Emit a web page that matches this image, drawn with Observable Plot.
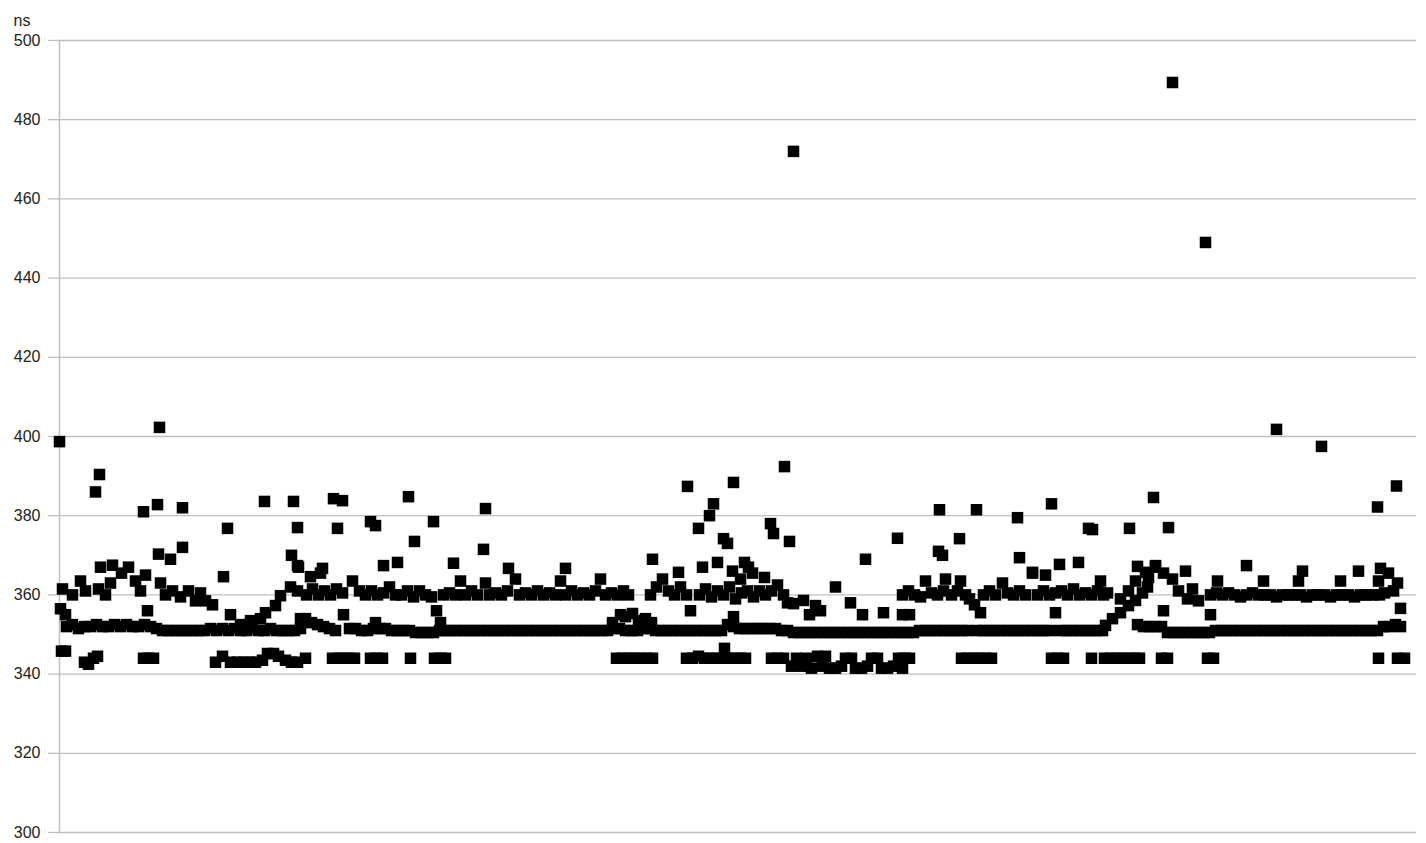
<!DOCTYPE html>
<html><head><meta charset="utf-8">
<script src="https://cdn.jsdelivr.net/npm/d3@7"></script>
<script src="https://cdn.jsdelivr.net/npm/@observablehq/plot@0.6"></script>
<style>body{margin:0;background:#fff}</style>
</head><body><div id="chart"></div>
<script>
const yTicks = [300, 320, 340, 360, 380, 400, 420, 440, 460, 480, 500];
const unitLabel = "ns";

// [sample, ns]
const lowBand = [[2,345.8],[6,345.8],[25,343],[29,342.5],[34,344],[38,344.5],
[84,344],[89,344],[94,344],
[156,343],[163,344.5],[171,343],[178,343],[184,343],[190,343],[196,343],[203,343.5],[208,345.2],[214,345.2],[219,344.5],[226,343.5],[232,343],[238,343],[246,344],
[273,344],[279,344],[284,344],[290,344],[295,344],
[311,344],[317,344],[323,344],
[351,344],
[375,344],[381,344],[386,344],
[557,344],[563,344],[569,344],[575,344],[581,344],[587,344],[593,344],
[627,344],[633,344],[639,344.5],[645,344],[651,344],[657,344],[663,344],[665,346.5],[669,344],[675,344],[681,344],[686,344],
[712,344],[718,344],[724,344],
[732,342],[737,344],[742,342],[747,344],[752,341.5],[758,344.5],[763,342],[766,344.5],[770,341.5],[776,341.5],[782,342],[786,344],[792,344],[796,341.5],[802,341.5],[808,342],[812,344],[818,344],[822,341.5],[828,341.5],[834,342],[839,344],[845,344],[850,344],[843,341.5],
[902,344],[908,344],[914,344],[920,344],[926,344],[932,344],
[992,344],[998,344],[1004,344],
[1032,344],
[1045,344],[1051,344],[1057,344],[1063,344],[1069,344],[1075,344],[1080,344],
[1102,344],[1108,344],
[1148,344],[1154,344],
[1319,344],
[1338,344],[1345,344]];

const midBand = [[7,352],[13,352.5],[19,351.5],[25,352],[31,352],[37,352.5],[43,352],[49,352],[55,352.5],[61,352],[67,352.5],[73,352],[79,352],[85,352.5],[91,352],[97,351.5],[103,351],[109,351],[115,351],[121,351],[127,351],[133,351],[139,351],[145,351],[151,351.5],[157,351],[163,351.5],[169,351],[175,351.5],[181,351],[187,351],[193,351.5],[199,351],[205,351],[211,351.5],[217,351],[223,351],[229,351],[235,351],[241,351.5],
[246,354],[252,353],[258,352.5],[264,352],[270,351.5],[276,351],
[290,351.5],[296,351.5],[302,351],[308,351],[314,351.5],[320,351.5],[326,351.5],[332,351],[338,351],[344,351],[350,351],[356,350.5],[362,350.5],[368,350.5],[374,350.5],
[380,351],[386,351],[392,351],[398,351],[404,351],[410,351],[416,351],[422,351],[428,351],[434,351],[440,351],[446,351],[452,351],[458,351],[464,351],[470,351],[476,351],[482,351],[488,351],[494,351],[500,351],[506,351],[512,351],[518,351],[524,351],[530,351],[536,351],[542,351],[548,351],
[554,351.5],[560,351.5],[566,351],[572,351],[578,351],[584,351.5],[590,351.5],[596,351],[602,351],[608,351],[614,351],[620,351],[626,351],[632,351],[638,351],[644,351],[650,351],[656,351],[662,351],[668,352.5],[674,352],[680,351.5],[686,351.5],[692,351.5],[698,351.5],[704,351.5],[710,351.5],[716,351.5],[722,351],[728,351],
[734,350.5],[740,350.5],[746,350.5],[752,350.5],[758,350.5],[764,350.5],[770,350.5],[776,350.5],[782,350.5],[788,350.5],[794,350.5],[800,350.5],[806,350.5],[812,350.5],[818,350.5],[824,350.5],[830,350.5],[836,350.5],[842,350.5],[848,350.5],[854,350.5],
[860,351],[866,351],[872,351],[878,351],[884,351],[890,351],[896,351],[902,351],[908,351],
[918,351],[924,351],[930,351],[936,351],[942,351],[948,351],[954,351],[960,351],[966,351],[972,351],[978,351],[984,351],[990,351],
[1001,351],[1007,351],[1013,351],[1019,351],[1025,351],[1031,351],[1037,351],[1043,351],
[1078,352.5],[1084,352],[1090,352],[1096,352],[1102,352],
[1108,350.5],[1114,350.5],[1120,350.5],[1126,350.5],[1132,350.5],[1138,350.5],[1144,350.5],[1150,350.5],
[1156,351],[1162,351],[1168,351],[1174,351],[1180,351],[1186,351],[1192,351],[1198,351],[1204,351],[1210,351],[1216,351],[1222,351],[1228,351],[1234,351],[1240,351],[1246,351],[1252,351],[1258,351],[1264,351],[1270,351],[1276,351],[1282,351],[1288,351],[1294,351],[1300,351],[1306,351],[1312,351],[1318,351],
[1324,352],[1330,352],[1336,352.5],[1341,352]];

const highBand = [[3,361.5],[13,360],[21,363.5],[26,361],[39,361.5],[46,360],[51,363],[41,367],[53,367.5],[62,365.5],[69,367],[76,363.5],[81,361],[86,365],
[101,363],[106,360],[113,361],[121,359.5],[129,361],[136,358.5],[141,360.5],[146,358.5],[153,357.5],
[231,362],[238,361],[239,367],[261,365.5],
[247,360],[253,361.5],[259,360],[265,361],[271,360],[277,361.5],[283,360.5],
[293,363.5],[300,361],[306,360],[312,361],[318,360],[324,360.5],[330,362],[336,360],
[342,360],[348,361],[354,359.5],[360,361],[366,360],[372,359.5],
[384,360],[390,360.5],[396,360],[401,363.5],[406,360],[412,361],[418,360],[426,363],[430,360],[436,360.5],[442,360],[448,361],[456,364],[460,360],[466,360.5],[472,360],[478,361],[484,360],[490,360.5],[496,360],[501,363.5],[506,360],[512,361],[518,360],[524,360.5],[530,360],[536,361],[541,364],[546,360],[552,360.5],[558,360],[564,361],[569,360],
[591,360],[597,362],[603,364],[609,361],[615,360],[621,362],[627,360],
[640,360],[646,361.5],[652,359.5],[658,361],[664,360],[670,362],[676,359],[682,360.5],[688,361],[694,359.5],[700,361],[706,360],[712,361],[718,362.5],[724,360],
[673,366],[681,364],
[843,360],[849,361],[855,360],[861,359.5],[866,363.5],[872,360.5],[878,360],[884,361],[886,364],[892,360],[898,361],[901,363.5],[906,360],[910,359],[915,357.5],
[924,360],[930,361],[936,360],[943,363],[948,360.5],[954,360],[960,361],[966,360],[973,365.5],[978,360],[984,361],[986,365],[990,360],[996,360.5],[1002,361],[1008,360],[1014,361.5],[1020,360],[1026,360.5],[1032,360],[1038,361],[1041,363.5],[1044,360],[1048,360.5],
[1113,364],[1119,361],[1126,366],[1128,359],[1133,361.5],[1139,358.5],
[1151,360],[1157,360.5],[1158,363.5],[1163,360],[1169,360.5],[1175,360],[1181,359.5],[1187,360],[1193,360.5],[1199,360],[1204,363.5],[1205,360],[1211,360],[1217,359.5],[1223,360],[1229,360],[1235,360],[1239,363.5],[1241,360],[1247,359.5],[1253,360],[1259,360],[1265,360],[1271,359.5],[1277,360],[1281,363.5],[1283,360],[1289,360],[1295,359.5],[1301,360],[1307,360],[1313,360],[1319,363.5],[1320,360],[1325,360.5],
[1329,365.5],[1334,361],[1338,363]];

const transition = [[1,356.5],[6,355],[88,356],
[171,355],[181,352.5],[191,353.5],[201,354],[206,355.5],[216,357.3],[221,359.8],
[241,354],[284,355],[316,353],[377,356],[381,353],
[553,353],[561,355],[566,354.5],[573,355.3],[579,353.5],[586,354],[592,353],
[631,356],[674,354.5],
[728,358],[734,357.8],[744,358.6],[750,355],[756,357.3],[761,356],[776,362],[791,358],
[803,355],[824,355.5],[843,355],[850,355],[921,355.5],[996,355.5],
[1046,352.3],[1053,354],[1061,355.5],[1069,357.3],[1076,358.6],[1083,360.5],[1088,362],
[1061,359],[1069,361],[1076,363.5],[1086,365.7],[1096,367.4],
[1104,356],[1151,355],[1341,356.6]];

const outliers = [[0,398.7],[100,402.3],[40,390.4],[36,386],[84,381],[98,382.8],[123,382],[205,383.6],[234,383.6],[168,376.8],[238,377],[164,364.6],[99,370.3],[111,369],[123,372],[232,370],[238,367.4],[263,366.7],[251,364.6],[324,367.4],[338,368.2],[274,384.3],[283,383.8],[349,384.8],[426,381.8],[278,376.8],[311,378.5],[316,377.5],[374,378.5],[355,373.5],[424,371.5],[394,368],[449,366.7],[506,366.7],[593,369],[725,392.4],[674,388.4],[628,387.4],[654,383],[650,380],[639,376.8],[711,378],[714,375.5],[664,374.2],[668,373],[730,373.5],[838,374.3],[806,369],[643,367],[658,368.2],[685,368.2],[689,367],[693,365.5],[619,365.7],[705,364.4],[734,472],[1113,489.4],[1146,449],[1217,401.8],[1262,397.5],[1318,382.2],[1337,387.5],[880,381.5],[917,381.5],[992,383],[1094,384.6],[958,379.5],[1029,376.8],[1033,376.5],[1070,376.8],[900,374.2],[879,371],[883,370],[960,369.4],[1000,367.7],[1019,368.2],[973,365.7],[1078,367.2],[1089,364.4],[1109,377],[1187,367.4],[1243,366],[1299,366],[1321,366.7],[1096,367],[1104,365.5]];

const points = [...lowBand, ...midBand, ...highBand, ...transition, ...outliers]
  .map(([sample, ns]) => ({sample, ns}));

const chart = Plot.plot({
  width: 1426,
  height: 843,
  marginLeft: 59,
  marginRight: 10,
  marginTop: 40,
  marginBottom: 11,
  x: {domain: [0, 1357], axis: null},
  y: {domain: [300, 500], axis: null},
  style: {fontFamily: "'Liberation Sans', Arial, sans-serif", background: "white"},
  marks: [
    Plot.gridY(yTicks, {stroke: "#bfbfbf", strokeOpacity: 1, strokeWidth: 1.3}),
    Plot.axisY(yTicks, {tickSize: 11, tickPadding: 8, stroke: "#bfbfbf", strokeWidth: 1.3, fill: "#222", fontSize: 16, label: null}),
    Plot.ruleX([0], {y1: 300, y2: 500, stroke: "#bfbfbf", strokeWidth: 1.5}),
    Plot.dot(points, {x: "sample", y: "ns", symbol: "square", r: 6.5, fill: "black"}),
    Plot.text([unitLabel], {frameAnchor: "top-left", dx: -46, dy: -26, textAnchor: "start", fontSize: 16, fill: "#222"})
  ]
});
document.getElementById("chart").append(chart);
</script>
</body></html>
